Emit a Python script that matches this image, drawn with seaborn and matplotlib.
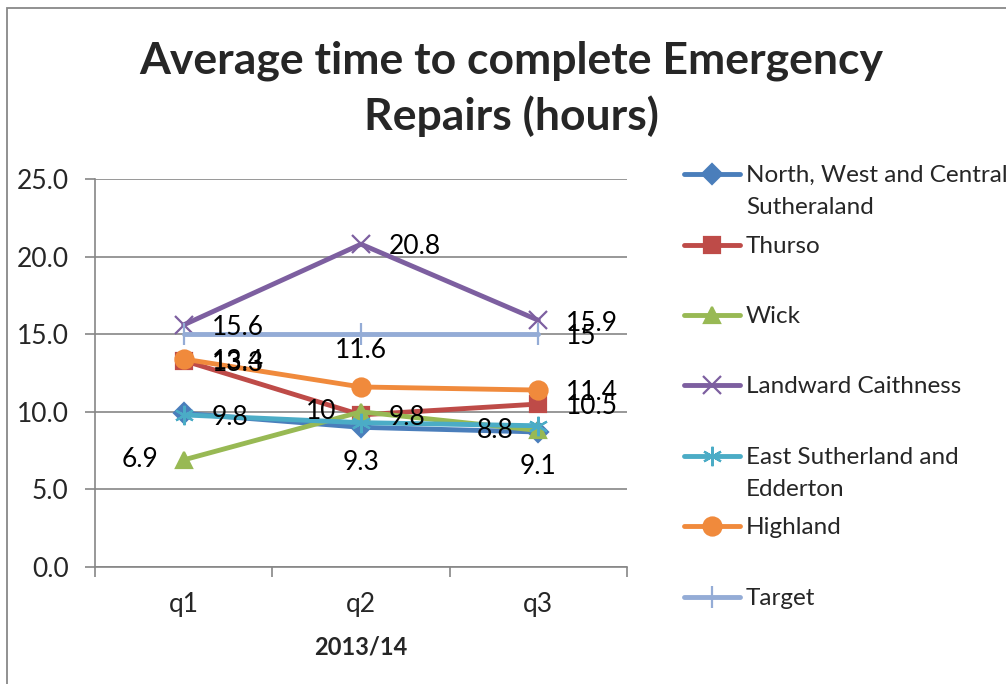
import matplotlib; matplotlib.use('Agg')
import numpy as np
import pandas as pd
import matplotlib.pyplot as plt
import seaborn as sns
from matplotlib.lines import Line2D
from matplotlib.patches import Rectangle

# Chart values (hours)
quarters = ['q1', 'q2', 'q3']
nwc_sutherland = [9.9, 9.0, 8.7]
thurso = [13.3, 9.8, 10.5]
wick = [6.9, 10.0, 8.8]
landward_caithness = [15.6, 20.8, 15.9]
east_sutherland = [9.8, 9.3, 9.1]
highland = [13.4, 11.6, 11.4]
target = [15, 15, 15]

series = [
    (['North, West and Central', 'Sutheraland'], nwc_sutherland),
    (['Thurso'], thurso),
    (['Wick'], wick),
    (['Landward Caithness'], landward_caithness),
    (['East Sutherland and', 'Edderton'], east_sutherland),
    (['Highland'], highland),
    (['Target'], target),
]

# Styles
colors = ['#4A7EBB', '#BE4B48', '#98B954', '#7D5FA0', '#4BACC6', '#F08A3C', '#94ACD6']
markers = ['D', 's', '^', 'x', (6, 2, 0), 'o', '|']
msizes = [10, 11, 12, 13, 14, 13, 16]
# where each data label sits (None = no label)
label_pos = [
    [None, None, None],
    ['right', 'right', 'right'],
    ['left', 'left', 'left'],
    ['right', 'right', 'right'],
    ['right', 'below', 'below'],
    ['right', 'above', 'right'],
    [None, None, 'right'],
]
offsets = {'right': ((20, -2), 'left', 'center'),
           'left': ((-18, 0), 'right', 'center'),
           'above': ((0, 26), 'center', 'center'),
           'below': ((0, -29), 'center', 'center')}
legend_rows_px = [175, 246, 316, 386, 457, 527, 598]

sns.set_theme(style='white')
plt.rcParams['font.family'] = ['Lato', 'DejaVu Sans']

fig = plt.figure(figsize=(10.06, 6.84), dpi=100)
ax = fig.add_axes([95 / 1006, 1 - 567 / 684, 532 / 1006, 388 / 684])

xs = np.arange(len(quarters))
handles = []
for i, (name, vals) in enumerate(series):
    c = colors[i]
    sns.lineplot(x=xs, y=vals, ax=ax, color=c, linewidth=3.5, marker=markers[i],
                 markersize=msizes[i], markeredgecolor=c, markerfacecolor=c,
                 markeredgewidth=1.6, sort=False, zorder=3 + i)
    for j, v in enumerate(vals):
        pos = label_pos[i][j]
        if pos is None:
            continue
        off, ha, va = offsets[pos]
        ax.annotate(f'{v:g}', (xs[j], v), xytext=off, textcoords='offset points',
                    ha=ha, va=va, fontsize=19, color='black', zorder=20)
    handles.append(Line2D([], [], color=c, linewidth=3.5, marker=markers[i],
                          markersize=msizes[i], markeredgecolor=c,
                          markerfacecolor=c, markeredgewidth=1.6))

ax.set_xlim(-0.5, len(quarters) - 0.5)
ax.set_ylim(0, 25)
ax.set_yticks(np.arange(0, 26, 5))
ax.set_yticklabels([f'{t:.1f}' for t in np.arange(0, 26, 5)], fontsize=19)
ax.set_xticks(xs)
ax.set_xticklabels(quarters, fontsize=19)
ax.set_xticks(np.arange(-0.5, len(quarters)), minor=True)
ax.tick_params(axis='x', which='major', length=0, pad=18)
ax.tick_params(axis='x', which='minor', length=7, width=1.2, color='#868686', direction='out', bottom=True)
ax.tick_params(axis='y', which='major', length=7, width=1.2, color='#868686', direction='out', left=True, pad=12)
ax.yaxis.grid(True, color='#868686', linewidth=1.2)
ax.set_axisbelow(True)
for s in ['top', 'right']:
    ax.spines[s].set_visible(False)
for s in ['left', 'bottom']:
    ax.spines[s].set_color('#868686')
    ax.spines[s].set_linewidth(1.2)
ax.set_xlabel('2013/14', fontsize=17, fontweight='bold', labelpad=13)
ax.set_ylabel('')

fig.text(511 / 1006, 1 - 89 / 684, 'Average time to complete Emergency\nRepairs (hours)',
         ha='center', va='center', fontsize=32, fontweight='bold', linespacing=1.4)

# legend, one block per series
for i, (name, vals) in enumerate(series):
    hs = [handles[i]] + [Line2D([], [], linestyle='none')] * (len(name) - 1)
    fig.legend(hs, name, loc='upper left', frameon=False, fontsize=17.5,
               bbox_to_anchor=(684 / 1006, 1 - (legend_rows_px[i] - 10) / 684),
               borderpad=0, borderaxespad=0, labelspacing=0.45,
               handlelength=2.3, handletextpad=0.25)

fig.add_artist(Rectangle((7 / 1006, -0.1), 1.2, 1 - 8 / 684 + 0.1, transform=fig.transFigure,
                         fill=False, edgecolor='#888888', linewidth=1.3))

plt.savefig('out.png', dpi=100)
plt.close()
